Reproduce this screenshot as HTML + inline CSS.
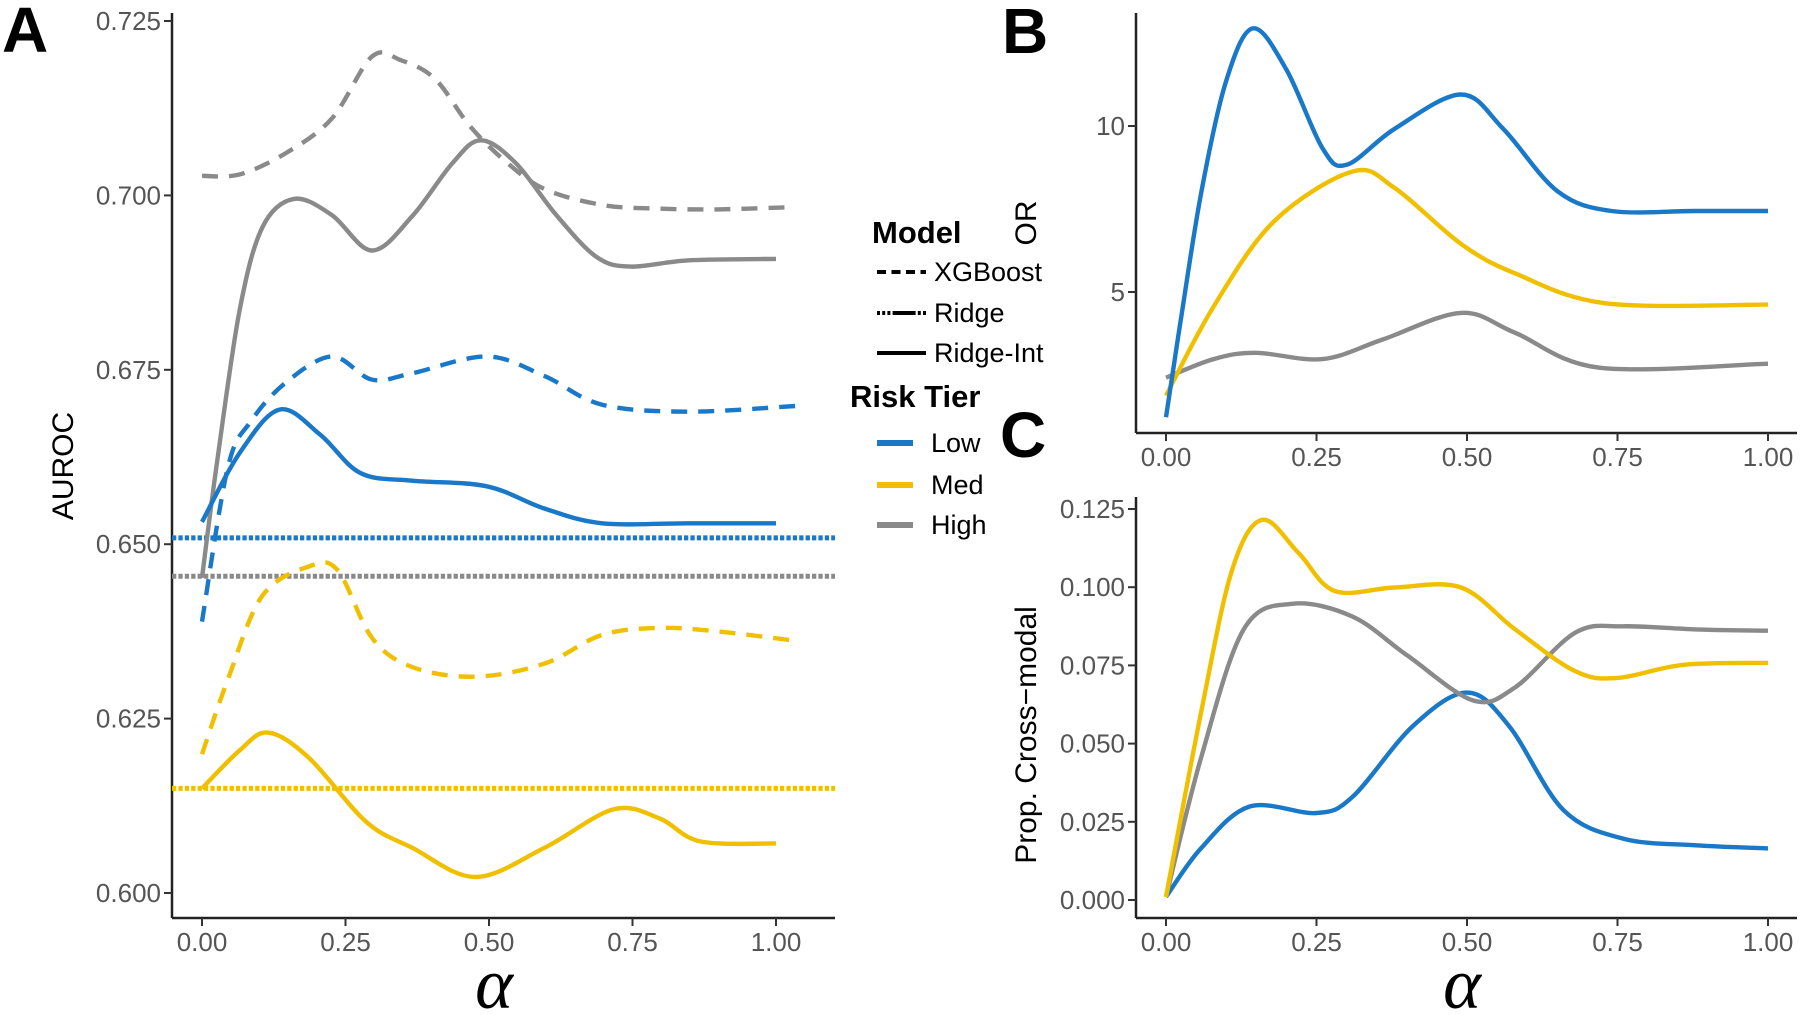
<!DOCTYPE html>
<html><head><meta charset="utf-8"><style>
body{margin:0;background:#fff}
svg{display:block}
text{font-family:"Liberation Sans",sans-serif}
.tk{font-size:26px;fill:#555}
</style></head><body>
<svg id="fig" width="1800" height="1015" viewBox="0 0 1800 1015" xmlns="http://www.w3.org/2000/svg">
<g id="gA"></g>
<g id="gB"></g>
<g id="gC"></g>
<g id="legend"></g>
<text x="2" y="52" font-size="64" font-weight="bold">A</text>
<text x="1002" y="53" font-size="64" font-weight="bold">B</text>
<text x="1000" y="457" font-size="64" font-weight="bold">C</text>
<text transform="translate(73,466) rotate(-90)" text-anchor="middle" font-size="30">AUROC</text>
<text transform="translate(1036,223) rotate(-90)" text-anchor="middle" font-size="30">OR</text>
<text transform="translate(1036,735) rotate(-90)" text-anchor="middle" font-size="30">Prop. Cross−modal</text>
<text x="494" y="1008" text-anchor="middle" font-size="72" font-style="italic" style="font-family:'Liberation Serif',serif">α</text>
<text x="1462" y="1008" text-anchor="middle" font-size="72" font-style="italic" style="font-family:'Liberation Serif',serif">α</text>
</svg>
<script>
// ---- data ----
const xTicks=[0,0.25,0.5,0.75,1];
const xTickLabels=["0.00","0.25","0.50","0.75","1.00"];
const aTicks=[0.600,0.625,0.650,0.675,0.700,0.725];
const aTickLabels=["0.600","0.625","0.650","0.675","0.700","0.725"];
const bTicks=[5,10];
const bTickLabels=["5","10"];
const cTicks=[0,0.025,0.05,0.075,0.1,0.125];
const cTickLabels=["0.000","0.025","0.050","0.075","0.100","0.125"];
// Panel A AUROC
const aHighXgbX=[0,0.065,0.145,0.226,0.296,0.346,0.406,0.466,0.527,0.597,0.70,0.80,0.898,1.02];
const aHighXgbY=[0.7028,0.703,0.706,0.711,0.7199,0.7194,0.7167,0.710,0.705,0.7009,0.6986,0.6981,0.698,0.6983];
const aHighIntX=[0,0.025,0.065,0.105,0.16,0.226,0.296,0.366,0.436,0.486,0.547,0.617,0.687,0.747,0.848,1.0];
const aHighIntY=[0.6452,0.661,0.6833,0.6954,0.6995,0.6972,0.6921,0.697,0.7046,0.7079,0.7046,0.6972,0.6912,0.6898,0.6907,0.6909];
const aLowXgbX=[0,0.045,0.085,0.145,0.226,0.296,0.366,0.496,0.597,0.697,0.848,1.05];
const aLowXgbY=[0.6389,0.661,0.6676,0.6731,0.6769,0.6736,0.6745,0.6769,0.6741,0.670,0.669,0.6699];
const aLowIntX=[0,0.065,0.135,0.206,0.276,0.366,0.496,0.597,0.697,0.848,1.0];
const aLowIntY=[0.6532,0.663,0.6693,0.6657,0.6602,0.6591,0.6583,0.6551,0.653,0.653,0.653];
const aMedXgbX=[0,0.045,0.105,0.186,0.236,0.296,0.366,0.476,0.597,0.697,0.797,0.898,1.04];
const aMedXgbY=[0.6199,0.6306,0.6426,0.6468,0.6463,0.6366,0.6324,0.631,0.6329,0.637,0.638,0.6375,0.6361];
const aMedIntX=[0,0.065,0.115,0.186,0.286,0.366,0.476,0.597,0.717,0.797,0.868,1.0];
const aMedIntY=[0.615,0.6204,0.623,0.6194,0.6102,0.6065,0.6023,0.6065,0.612,0.6107,0.6074,0.6071];
const ridgeLevels=[0.6509,0.615,0.6454]; // Low, Med, High
// Panel B OR
const bLowX=[0,0.023,0.058,0.099,0.144,0.2,0.26,0.3,0.38,0.49,0.56,0.65,0.74,0.88,1.0];
const bLowY=[1.23,3.97,7.94,11.3,12.94,11.7,9.33,8.83,9.92,10.95,9.92,8.04,7.44,7.44,7.44];
const bMedX=[0,0.079,0.18,0.31,0.38,0.49,0.58,0.73,1.0];
const bMedY=[1.88,4.56,7.14,8.63,8.13,6.45,5.56,4.66,4.62];
const bHighX=[0,0.079,0.149,0.26,0.36,0.49,0.58,0.72,1.0];
const bHighY=[2.42,2.98,3.17,2.98,3.57,4.37,3.77,2.72,2.84];
// Panel C Prop cross-modal
const cMedX=[0,0.058,0.109,0.159,0.22,0.28,0.38,0.49,0.58,0.68,0.75,0.86,1.0];
const cMedY=[0.001,0.0597,0.105,0.1215,0.111,0.0988,0.0999,0.0999,0.0865,0.0731,0.071,0.0752,0.0758];
const cHighX=[0,0.058,0.129,0.21,0.31,0.4,0.51,0.58,0.68,0.76,0.88,1.0];
const cHighY=[0.001,0.0453,0.0865,0.0947,0.0906,0.0783,0.0638,0.068,0.0855,0.0875,0.0865,0.0861];
const cLowX=[0,0.058,0.139,0.25,0.31,0.41,0.5,0.57,0.66,0.76,0.88,1.0];
const cLowY=[0.001,0.0165,0.0299,0.0278,0.033,0.0556,0.0663,0.0556,0.0288,0.0196,0.0175,0.0165];

const BLUE="#1a78c9",YEL="#f0c000",GRAY="#8a8a8a";
const NS="http://www.w3.org/2000/svg";
function mk(tag,attrs,parent){const e=document.createElementNS(NS,tag);for(const k in attrs)e.setAttribute(k,attrs[k]);parent.appendChild(e);return e;}
function spline(xs,ys,sx,sy){
  const p=xs.map((x,i)=>[sx(x),sy(ys[i])]);
  let d="M"+p[0][0].toFixed(1)+","+p[0][1].toFixed(1);
  for(let i=0;i<p.length-1;i++){
    const p0=p[Math.max(0,i-1)],p1=p[i],p2=p[i+1],p3=p[Math.min(p.length-1,i+2)];
    const c1=[p1[0]+(p2[0]-p0[0])/6,p1[1]+(p2[1]-p0[1])/6];
    const c2=[p2[0]-(p3[0]-p1[0])/6,p2[1]-(p3[1]-p1[1])/6];
    d+="C"+c1.map(v=>v.toFixed(1))+" "+c2.map(v=>v.toFixed(1))+" "+p2.map(v=>v.toFixed(1));
  }
  return d;
}
function axes(g,x0,x1,y0,y1,sx,sy,yt,ytl){
  const xa=mk("line",{x1:x0,y1:y1,x2:x1,y2:y1,stroke:"#222","stroke-width":2.5},g);
  
  
  const ya=mk("line",{x1:x0,y1:y0,x2:x0,y2:y1,stroke:"#222","stroke-width":2.5},g);
  
  
  xTicks.forEach((t,i)=>{
    mk("line",{x1:sx(t),y1:y1,x2:sx(t),y2:y1+8,stroke:"#333","stroke-width":2},g);
    const tx=mk("text",{x:sx(t),y:y1+33,"text-anchor":"middle",class:"tk"},g);
    tx.textContent=xTickLabels[i];
    
    
  });
  yt.forEach((t,i)=>{
    mk("line",{x1:x0-8,y1:sy(t),x2:x0,y2:sy(t),stroke:"#333","stroke-width":2},g);
    const tx=mk("text",{x:x0-11,y:sy(t)+9,"text-anchor":"end",class:"tk"},g);
    tx.textContent=ytl[i];
    
    
  });
}
function line(g,xs,ys,sx,sy,col,dash,name){
  const a={d:spline(xs,ys,sx,sy),fill:"none",stroke:col,"stroke-width":4.4,"stroke-linecap":"butt"};
  if(dash)a["stroke-dasharray"]=dash;
  const p=mk("path",a,g);
  
  
}
// Panel A
const gA=document.getElementById("gA");
const sxA=a=>202+a*574, syA=v=>893-(v-0.6)/0.125*872;
axes(gA,172,835,13,918,sxA,syA,aTicks,aTickLabels);
const dotCols=[BLUE,YEL,GRAY];
ridgeLevels.forEach((v,i)=>{
  const l=mk("line",{x1:172,x2:835,y1:syA(v),y2:syA(v),stroke:dotCols[i],"stroke-width":5,"stroke-dasharray":"4.3,2.1"},gA);
  
  
});
const D="16,11";
line(gA,aHighXgbX,aHighXgbY,sxA,syA,GRAY,D,"high-xgboost-line");
line(gA,aHighIntX,aHighIntY,sxA,syA,GRAY,null,"high-ridge-int-line");
line(gA,aLowXgbX,aLowXgbY,sxA,syA,BLUE,D,"low-xgboost-line");
line(gA,aLowIntX,aLowIntY,sxA,syA,BLUE,null,"low-ridge-int-line");
line(gA,aMedXgbX,aMedXgbY,sxA,syA,YEL,D,"med-xgboost-line");
line(gA,aMedIntX,aMedIntY,sxA,syA,YEL,null,"med-ridge-int-line");
// Panel B
const gB=document.getElementById("gB");
const sxB=a=>1166+a*602, syB=v=>292-(v-5)*33.2;
axes(gB,1136,1797,13,433,sxB,syB,bTicks,bTickLabels);
line(gB,bHighX,bHighY,sxB,syB,GRAY,null,"or-high-line");
line(gB,bMedX,bMedY,sxB,syB,YEL,null,"or-med-line");
line(gB,bLowX,bLowY,sxB,syB,BLUE,null,"or-low-line");
// Panel C
const gC=document.getElementById("gC");
const sxC=a=>1166+a*602, syC=v=>900-v*3128;
axes(gC,1136,1797,497,918,sxC,syC,cTicks,cTickLabels);
line(gC,cLowX,cLowY,sxC,syC,BLUE,null,"prop-low-line");
line(gC,cHighX,cHighY,sxC,syC,GRAY,null,"prop-high-line");
line(gC,cMedX,cMedY,sxC,syC,YEL,null,"prop-med-line");
// Legend
const L=document.getElementById("legend");
function lt(x,y,s,fs,bold,name){const t=mk("text",{x:x,y:y,"font-size":fs},L);if(bold)t.setAttribute("font-weight","bold");t.textContent=s;
  
  }
lt(872,243,"Model",31,true,"legend-title-model");
[["XGBoost","9,5.5",272],["Ridge","3,2.2,3,2.2,3,2.2,20,0",313],["Ridge-Int",null,353]].forEach(r=>{
  const a={x1:877,x2:926,y1:r[2],y2:r[2],stroke:"#000","stroke-width":4};
  if(r[1])a["stroke-dasharray"]=r[1];
  const l=mk("line",a,L);
  
  
  lt(934,r[2]+9,r[0],27,false,"legend-entry-label");
});
lt(850,407,"Risk Tier",31,true,"legend-title-risk-tier");
[["Low",BLUE,443],["Med",YEL,485],["High",GRAY,525]].forEach(r=>{
  const l=mk("line",{x1:877,x2:913,y1:r[2],y2:r[2],stroke:r[1],"stroke-width":6},L);
  
  
  lt(931,r[2]+9,r[0],27,false,"legend-entry-label");
});
</script>
</body></html>
